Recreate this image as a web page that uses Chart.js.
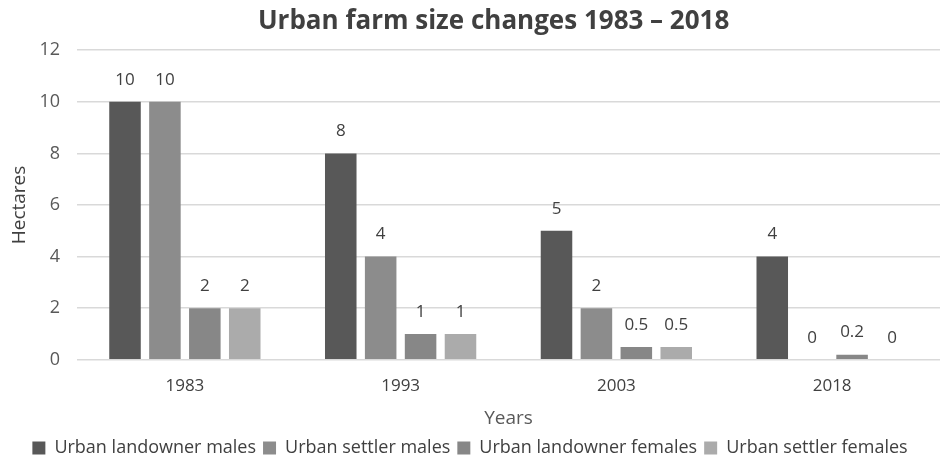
<!DOCTYPE html>
<html>
<head>
<meta charset="utf-8">
<script src="https://cdn.jsdelivr.net/npm/chart.js@4"></script>
<style>
  html, body { margin: 0; padding: 0; background: #fff; }
  #wrap { width: 940px; height: 462px; }
</style>
</head>
<body>
<div id="wrap"><canvas id="myChart" width="940" height="462"></canvas></div>
<script>
// chart values
var years = ["1983", "1993", "2003", "2018"];
var landownerMales = [10, 8, 5, 4];
var settlerMales = [10, 4, 2, 0];
var landownerFemales = [2, 1, 0.5, 0.2];
var settlerFemales = [2, 1, 0.5, 0];
var yTicks = [0, 2, 4, 6, 8, 10, 12];

var FONT = "'Open Sans', sans-serif";

// write the value above every bar
var barLabels = {
	id: "barLabels",
	afterDatasetsDraw: function(chart) {
		var ctx = chart.ctx;
		ctx.save();
		ctx.font = "17px " + FONT;
		ctx.fillStyle = "#404040";
		ctx.textAlign = "center";
		ctx.textBaseline = "middle";
		chart.data.datasets.forEach(function(ds, i) {
			var meta = chart.getDatasetMeta(i);
			meta.data.forEach(function(bar, j) {
				ctx.fillText(String(ds.data[j]), bar.x, bar.y - 22);
			});
		});
		ctx.restore();
	}
};

var ctx = document.getElementById("myChart").getContext("2d");
var chart = new Chart(ctx, {
	type: "bar",
	data: {
		labels: years,
		datasets: [
			{ label: "Urban landowner males", data: landownerMales, backgroundColor: "#585858" },
			{ label: "Urban settler males", data: settlerMales, backgroundColor: "#8c8c8c" },
			{ label: "Urban landowner females", data: landownerFemales, backgroundColor: "#878787" },
			{ label: "Urban settler females", data: settlerFemales, backgroundColor: "#ababab" }
		]
	},
	options: {
		responsive: false,
		animation: false,
		layout: { padding: { left: 0, right: 0, top: 0, bottom: -5 } },
		datasets: { bar: { categoryPercentage: 0.74, barPercentage: 0.79 } },
		plugins: {
			title: {
				display: true,
				text: "\u00a0\u00a0\u00a0\u00a0\u00a0\u00a0\u00a0Urban farm size changes 1983 \u2013 2018",
				color: "#404040",
				font: { family: FONT, size: 26, weight: "bold" },
				padding: { top: 6, bottom: 13 }
			},
			legend: {
				position: "bottom",
				labels: {
					color: "#404040",
					font: { family: FONT, size: 18 },
					boxWidth: 13,
					boxHeight: 13,
					padding: 7
				}
			},
			tooltip: { enabled: false }
		},
		scales: {
			x: {
				grid: { display: false },
				border: { display: false },
				ticks: { color: "#404040", font: { family: FONT, size: 17 }, padding: 8 },
				title: {
					display: true,
					text: "Years",
					color: "#595959",
					font: { family: FONT, size: 19 },
					padding: { top: 3, bottom: 2 }
				}
			},
			y: {
				min: 0,
				max: 12,
				afterBuildTicks: function(axis) {
					axis.ticks = yTicks.map(function(v) { return { value: v }; });
				},
				afterFit: function(axis) {
					axis.width = 77;
				},
				grid: { color: "#d9d9d9", lineWidth: 1.5, drawTicks: false },
				border: { display: false },
				ticks: { color: "#595959", font: { family: FONT, size: 18 }, padding: 17 },
				title: {
					display: true,
					text: "Hectares",
					color: "#404040",
					font: { family: FONT, size: 19 },
					padding: { top: 8, bottom: 0 }
				}
			}
		}
	},
	plugins: [barLabels]
});
</script>
</body>
</html>
